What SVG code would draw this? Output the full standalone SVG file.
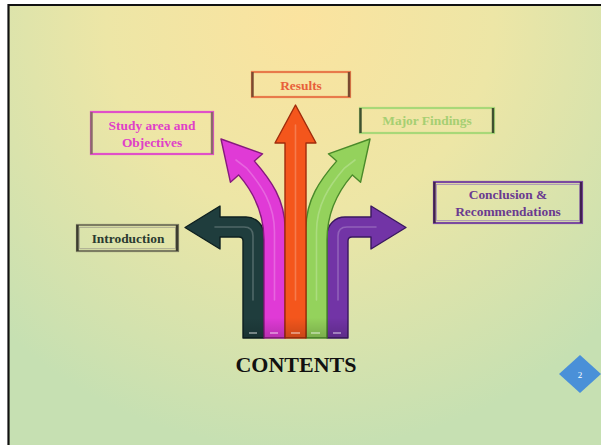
<svg xmlns="http://www.w3.org/2000/svg" width="601" height="445" viewBox="0 0 601 445">
  <defs>
    <radialGradient id="bg" cx="300" cy="20" r="430" gradientUnits="userSpaceOnUse">
      <stop offset="0" stop-color="#fbe39f"/>
      <stop offset="0.45" stop-color="#ede6a6"/>
      <stop offset="1" stop-color="#c6e0b2"/>
    </radialGradient>
    <linearGradient id="shade" x1="0" y1="0" x2="0" y2="1">
      <stop offset="0" stop-color="#000" stop-opacity="0"/>
      <stop offset="0.7" stop-color="#000" stop-opacity="0"/>
      <stop offset="1" stop-color="#000" stop-opacity="0.18"/>
    </linearGradient>
  </defs>
  <style>
    .lbl { font-family: "Liberation Serif", "Times New Roman", serif; font-weight: bold; font-size: 13.4px; text-anchor: middle; }
    .box { fill: none; stroke-width: 2.2; }
    .arrow { stroke-width: 1.4; stroke-linejoin: round; }
    .hl { fill: none; stroke: #ffffff; stroke-opacity: 0.22; stroke-width: 1.6; stroke-linecap: round; }
    .dash { stroke-width: 1.6; stroke-opacity: 0.5; stroke: #ffffff; }
  </style>

  <!-- slide background and frame -->
  <rect x="0" y="0" width="601" height="445" fill="#ffffff"/>
  <rect x="8" y="5" width="593" height="440" fill="url(#bg)"/>
  <path d="M8.5 445 V5 H601" fill="none" stroke="#111111" stroke-width="2.2"/>

  <!-- branching arrows -->
  <g id="connectors">
    <g id="arrow-introduction">
      <path class="arrow" fill="#1f3d3d" stroke="#0e2020" d="M243,338 V241 Q243,237 239,237 H220 V249 L185,227.5 L220,206 V217 H246 A18,18 0 0 1 264,235 V338 Z"/>
      <path class="hl" d="M215,227 H244 Q253,227 253,236 V300"/>
    </g>
    <g id="arrow-conclusion">
      <path class="arrow" fill="#7234a6" stroke="#3a1860" d="M348,338 V241 Q348,237 352,237 H371 V249 L406,227.5 L371,206 V217 H345 A18,18 0 0 0 327,235 V338 Z"/>
      <path class="hl" d="M376,227 H347 Q338,227 338,236 V300"/>
    </g>
    <g id="arrow-study">
      <path class="arrow" fill="#e03ad6" stroke="#861a7e" d="M264,338 V240 C264,215 255,193.7 238.6,174.9 L230.4,182.2 L221,139 L262.6,153.8 L254.4,161.1 C270.9,179.9 285,200 285,228 V338 Z"/>
      <path class="hl" d="M236,160 L246.5,168 C262,186 274.5,205 274.5,232 V300"/>
    </g>
    <g id="arrow-findings">
      <path class="arrow" fill="#94d25c" stroke="#4a8a2a" d="M327,338 V240 C327,215 336,193.7 352.4,174.9 L360.6,182.2 L370,139 L328.4,153.8 L336.6,161.1 C320.1,179.9 306,200 306,228 V338 Z"/>
      <path class="hl" d="M355,160 L344.5,168 C329,186 316.5,205 316.5,232 V300"/>
    </g>
    <g id="arrow-results">
      <path class="arrow" fill="#f4561c" stroke="#a02c0c" d="M285,338 V143 H275 L295.5,105 L316,143 H306 V338 Z"/>
      <path class="hl" d="M295.5,125 V300"/>
    </g>
    <!-- soft shading at the foot of the bundle -->
    <rect x="243" y="270" width="105" height="68" fill="url(#shade)"/>
    <g class="dash">
      <line x1="249" y1="333" x2="257" y2="333"/>
      <line x1="270" y1="333" x2="278" y2="333"/>
      <line x1="291" y1="333" x2="300" y2="333"/>
      <line x1="311" y1="333" x2="320" y2="333"/>
      <line x1="333" y1="333" x2="341" y2="333"/>
    </g>
  </g>

  <g id="node-results">
    <rect class="box" x="252" y="72" width="98" height="25" stroke="#e87a4a"/>
    <path d="M252.5 72 V97 M349 72 V97" stroke="#7a4a30" stroke-width="2.4"/>
    <text class="lbl" x="301" y="90" fill="#e8603a">Results</text>
  </g>

  <g id="node-study">
    <rect class="box" x="91" y="112" width="122" height="42" stroke="#e050c8"/>
    <path d="M91.5 112 V154 M212 112 V154" stroke="#8a6a6a" stroke-width="2.4"/>
    <text class="lbl" x="152" y="130" fill="#e040c8">Study area and</text>
    <text class="lbl" x="152" y="147" fill="#e040c8">Objectives</text>
  </g>

  <g id="node-findings">
    <rect class="box" x="360" y="108" width="134" height="25" stroke="#a8d878"/>
    <path d="M360.5 108 V133 M493 108 V133" stroke="#3f5030" stroke-width="2.4"/>
    <text class="lbl" x="427" y="125" fill="#a6cf72">Major Findings</text>
  </g>

  <g id="node-conclusion">
    <rect class="box" x="434" y="182" width="148" height="41" stroke="#7a4aa0"/>
    <rect x="436.5" y="184.5" width="143" height="36" fill="none" stroke="#a68ab8" stroke-width="0.8"/>
    <path d="M434.5 182 V223 M581 182 V223" stroke="#402050" stroke-width="2.4"/>
    <text class="lbl" x="508" y="199" fill="#6a3a90">Conclusion &amp;</text>
    <text class="lbl" x="508" y="216" fill="#6a3a90">Recommendations</text>
  </g>

  <g id="node-introduction">
    <rect class="box" x="77" y="225" width="101" height="26" stroke="#7c7c62"/>
    <rect x="79.5" y="227.5" width="96" height="21" fill="none" stroke="#a8a890" stroke-width="0.8"/>
    <path d="M77.5 225 V251 M177 225 V251" stroke="#3c3c30" stroke-width="2.4"/>
    <text class="lbl" x="128" y="243" fill="#2a3a30">Introduction</text>
  </g>

  <g id="title">
    <text x="296" y="372" font-family="'Liberation Serif', 'Times New Roman', serif" font-weight="bold" font-size="22" text-anchor="middle" fill="#111111">CONTENTS</text>
  </g>

  <g id="page-number">
    <polygon points="580,355 601,374 580,393 559,374" fill="#4a90d8"/>
    <text x="580" y="377.5" font-family="'Liberation Serif', serif" font-size="9" text-anchor="middle" fill="#ffffff">2</text>
  </g>
</svg>
